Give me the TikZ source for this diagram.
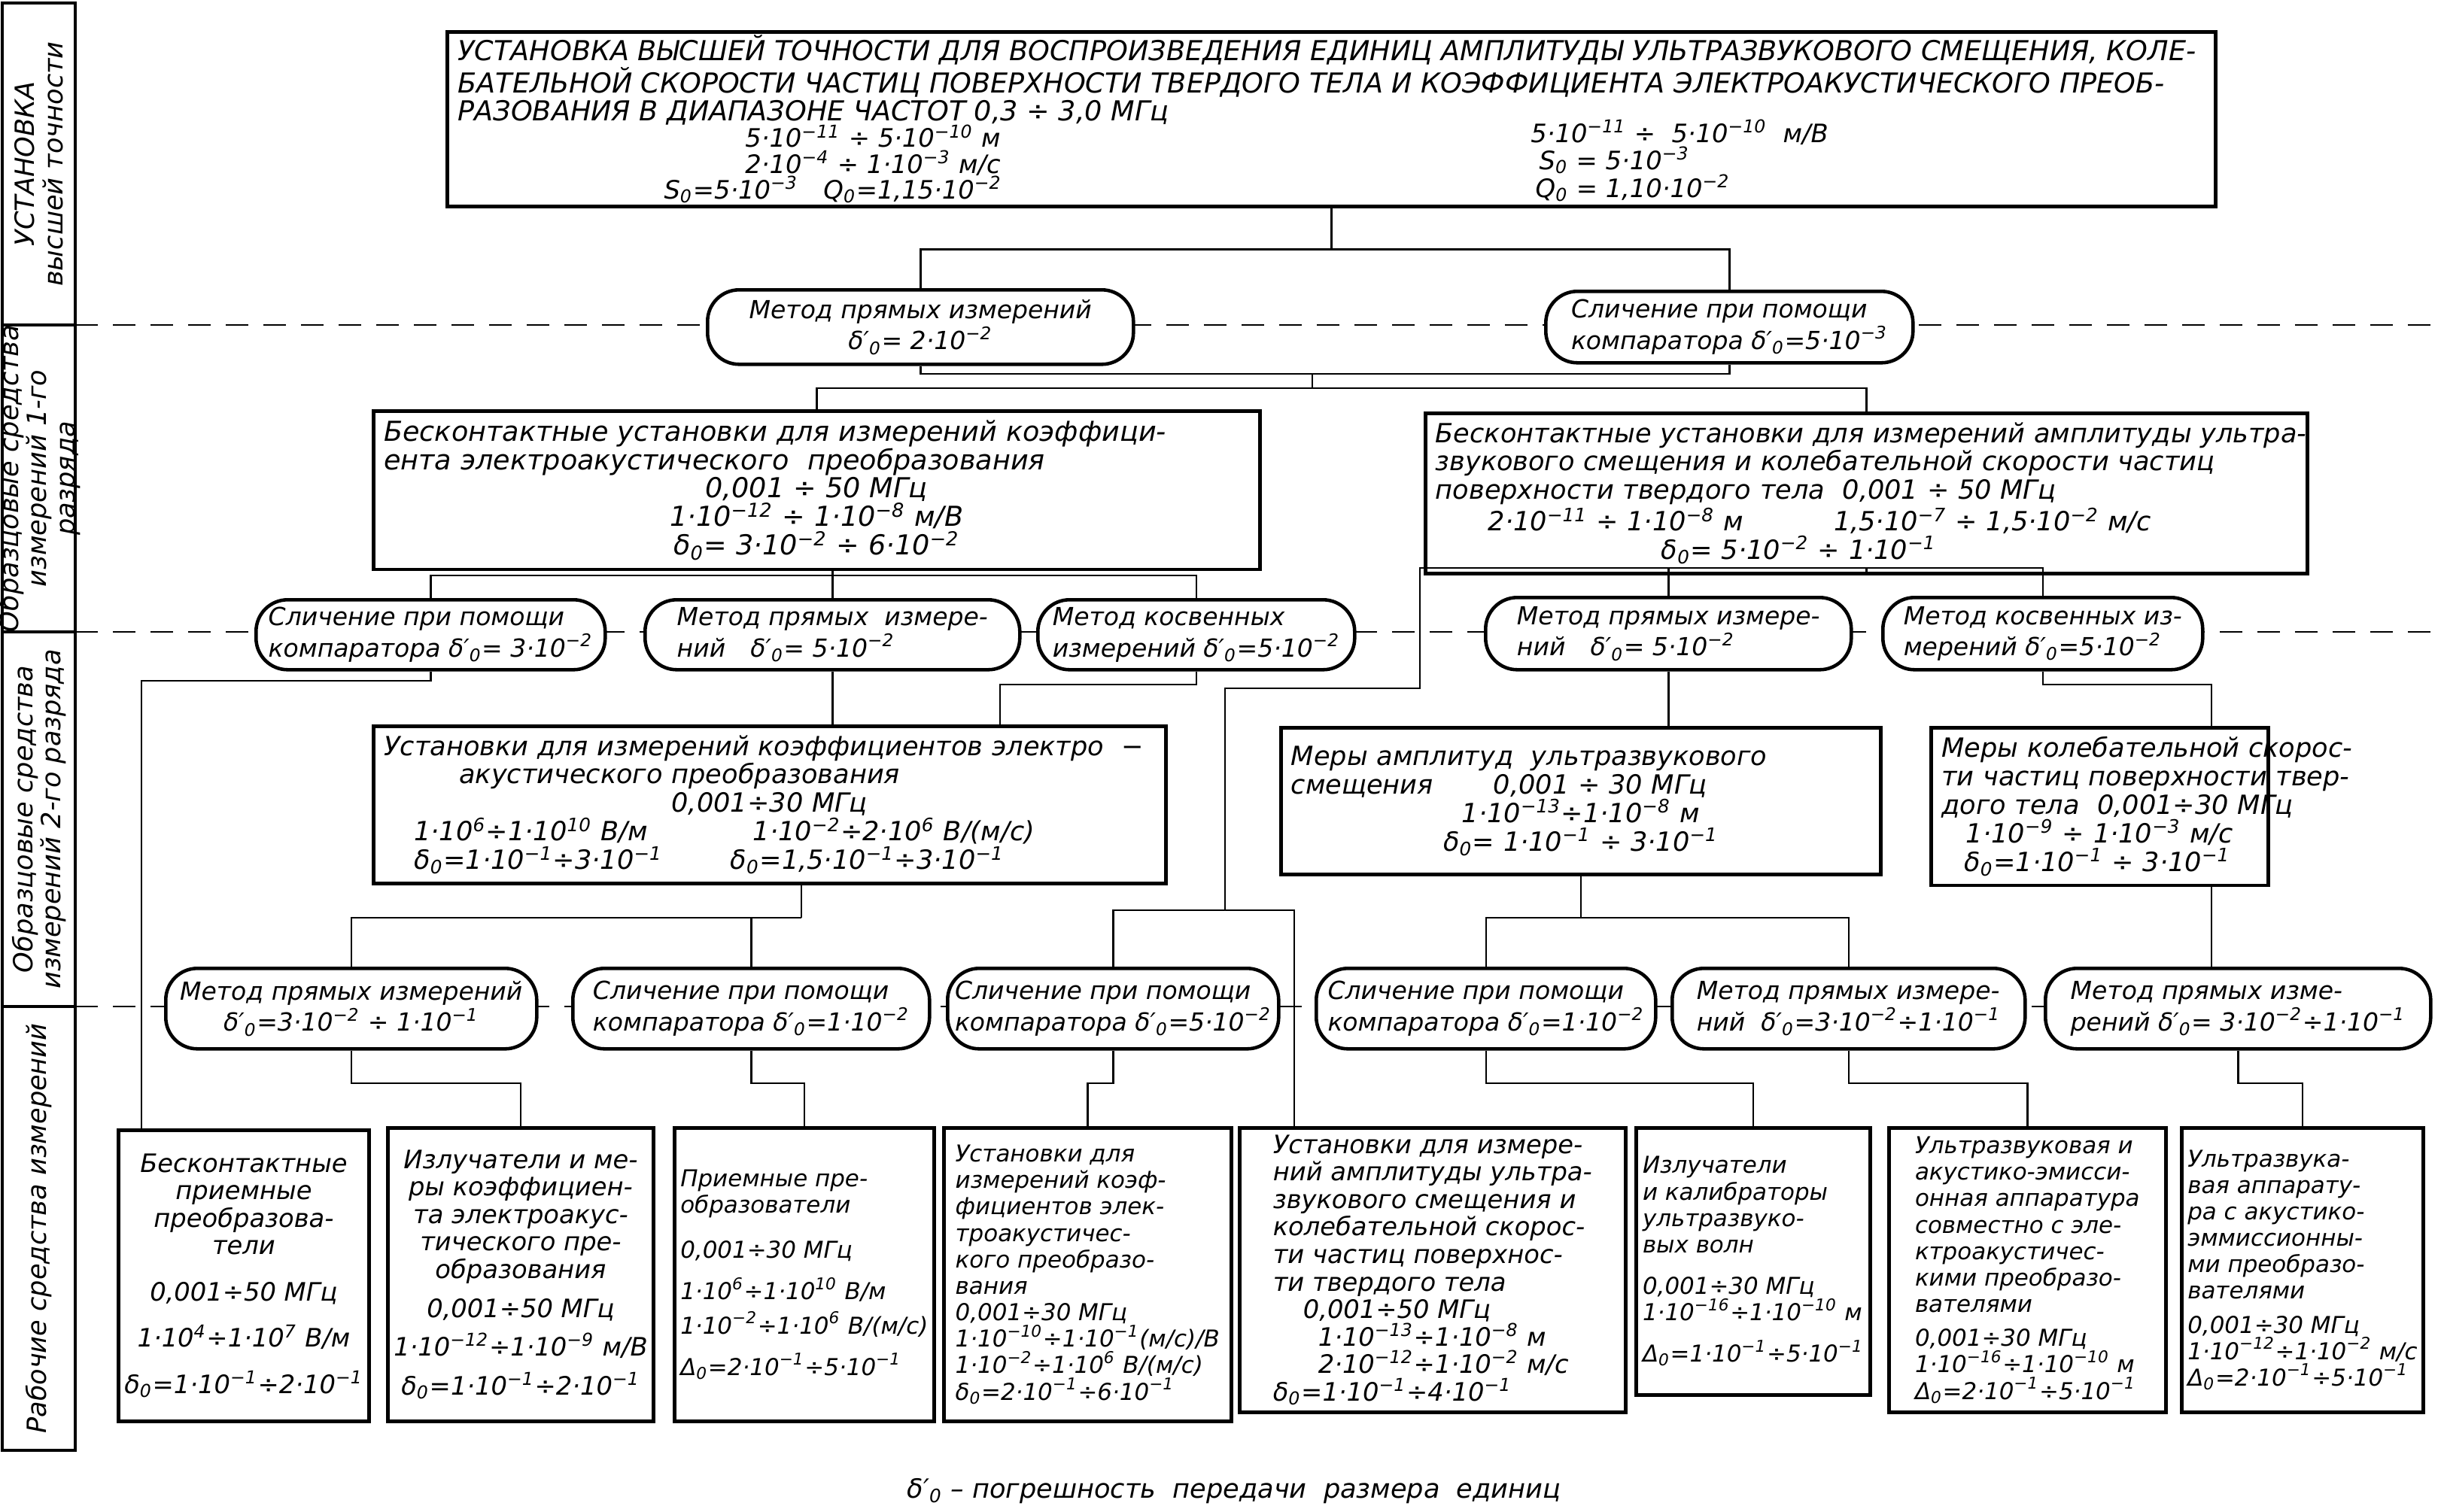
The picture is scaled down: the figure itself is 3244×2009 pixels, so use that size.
\documentclass[tikz,border=0pt]{standalone}
\usepackage{fontspec}
\setmainfont{DejaVu Sans}
\usetikzlibrary{calc}

\newcommand{\tp}[1]{\textsuperscript{#1}}
\newcommand{\dd}{δ′\textsubscript{0}}
\newcommand{\dz}{δ\textsubscript{0}}
\newcommand{\lft}[1]{\makebox[\linewidth][l]{#1}}

\tikzset{
  rect/.style={draw, line width=1.3pt, fill=white, inner sep=1.2mm, anchor=north west},
  oval/.style={draw, line width=1.3pt, fill=white, rounded corners=4.2mm, inner sep=0.3mm, anchor=north west, align=left, font=\fontsize{9.4}{11.8}\selectfont\itshape},
  wbox/.style={draw, line width=1.3pt, fill=white, inner sep=0.8mm, anchor=north west, align=left, font=\fontsize{8.8}{10}\selectfont\itshape},
  wbig/.style={wbox, font=\fontsize{9.6}{10.4}\selectfont\itshape},
  param/.style={inner sep=0pt, font=\fontsize{9.6}{10}\selectfont\itshape},
  link/.style={line width=0.7pt},
  sep/.style={line width=0.7pt, dash pattern=on 3mm off 2mm},
}

\begin{document}
\begin{tikzpicture}[x=0.1mm, y=-0.1mm, font=\fontsize{10}{10.8}\selectfont\itshape]
\useasboundingbox (0,0) rectangle (3244,2009);

% left column
\draw[line width=1pt] (3,4) rectangle (100,1928);
\foreach \y in {432,840,1338} {
  \draw[line width=1pt] (3,\y) -- (100,\y);
  \draw[sep] (100,\y) -- (3244,\y);
}
\node[rotate=90, align=center] (L1) at (52,218) {УСТАНОВКА\\высшей точности};
\node[rotate=90, align=center] (L2) at (52,636) {Образцовые средства\\измерений 1-го\\разряда};
\node[rotate=90, align=center] (L3) at (52,1089) {Образцовые средства\\измерений 2-го разряда};
\node[rotate=90, align=center] (L4) at (52,1633) {Рабочие средства измерений};

% top box
\node[rect, minimum width=235mm, minimum height=23.2mm] (top) at (592,40) {};
\node[anchor=north west, align=left, inner sep=0pt, font=\fontsize{10.4}{10.3}\selectfont\itshape] (title) at (608,46)
  {УСТАНОВКА ВЫСШЕЙ ТОЧНОСТИ ДЛЯ ВОСПРОИЗВЕДЕНИЯ ЕДИНИЦ АМПЛИТУДЫ УЛЬТРАЗВУКОВОГО СМЕЩЕНИЯ, КОЛЕ-\\
   БАТЕЛЬНОЙ СКОРОСТИ ЧАСТИЦ ПОВЕРХНОСТИ ТВЕРДОГО ТЕЛА И КОЭФФИЦИЕНТА ЭЛЕКТРОАКУСТИЧЕСКОГО ПРЕОБ-\\
   РАЗОВАНИЯ В ДИАПАЗОНЕ ЧАСТОТ 0,3 ÷ 3,0 МГц};
\node[param] (p1) at (1160,181) {5·10\tp{−11} ÷ 5·10\tp{−10} м};
\node[param] (p2) at (1160,217) {2·10\tp{−4} ÷ 1·10\tp{−3} м/с};
\node[param] (p3) at (1107,252) {S\textsubscript{0}=5·10\tp{−3}\quad Q\textsubscript{0}=1,15·10\tp{−2}};
\node[param] (p4) at (2232,176) {5·10\tp{−11} ÷\ \ 5·10\tp{−10}\ \ м/В};
\node[param, anchor=west] (p5) at (2045,213) {S\textsubscript{0} = 5·10\tp{−3}};
\node[param, anchor=west] (p6) at (2040,250) {Q\textsubscript{0} = 1,10·10\tp{−2}};

% row 2
\node[oval, align=center, minimum width=56.6mm, minimum height=9.9mm] (O1) at (938,383)
  {Метод прямых измерений\\ \dd = 2·10\tp{−2}};
\node[oval, minimum width=48.8mm, minimum height=9.5mm] (O2) at (2052,385)
  {Сличение при помощи\\компаратора \dd=5·10\tp{−3}};

% row 3
\node[rect, minimum width=117.8mm, minimum height=18mm, text width=115mm, align=center, font=\fontsize{10.4}{10.8}\selectfont\itshape] (B1) at (494,544)
  {\lft{Бесконтактные установки для измерений коэффици-}\\
   \lft{ента электроакустического\ \ преобразования}\\
   0,001 ÷ 50 МГц\\
   1·10\tp{−12} ÷ 1·10\tp{−8} м/В\\
   \dz = 3·10\tp{−2} ÷ 6·10\tp{−2}};
\node[rect, minimum width=117.2mm, minimum height=17.6mm, text width=114.5mm, align=center] (B2) at (1892,547)
  {\lft{Бесконтактные установки для измерений амплитуды ультра-}\\
   \lft{звукового смещения и колебательной скорости частиц}\\
   \lft{поверхности твердого тела\ \ 0,001 ÷ 50 МГц}\\
   \lft{\hspace{7mm}2·10\tp{−11} ÷ 1·10\tp{−8} м\hspace{12mm}1,5·10\tp{−7} ÷ 1,5·10\tp{−2} м/с}\\
   \lft{\hspace{30mm}\dz = 5·10\tp{−2} ÷ 1·10\tp{−1}}};

% row 4
\node[oval, minimum width=46.4mm, minimum height=9.3mm] (O3) at (338,795)
  {Сличение при помощи\\компаратора \dd = 3·10\tp{−2}};
\node[oval, minimum width=49.8mm, minimum height=9.3mm] (O4) at (855,795)
  {Метод прямых\ \ измере-\\ний\quad \dd = 5·10\tp{−2}};
\node[oval, minimum width=42.1mm, minimum height=9.3mm] (O5) at (1377,795)
  {Метод косвенных\\измерений \dd=5·10\tp{−2}};
\node[oval, minimum width=48.6mm, minimum height=9.6mm] (O6) at (1972,792)
  {Метод прямых измере-\\ний\quad \dd = 5·10\tp{−2}};
\node[oval, minimum width=42.5mm, minimum height=9.6mm] (O7) at (2500,792)
  {Метод косвенных из-\\мерений \dd=5·10\tp{−2}};

% row 5
\node[rect, minimum width=105.3mm, minimum height=19.9mm, text width=102.5mm, align=center] (B3) at (494,963)
  {\lft{Установки для измерений коэффициентов электро\ \ −}\\
   \lft{\hspace{10mm}акустического преобразования}\\
   0,001÷30 МГц\\
   \lft{\hspace{4mm}1·10\tp{6}÷1·10\tp{10} В/м\hspace{14mm}1·10\tp{−2}÷2·10\tp{6} В/(м/с)}\\
   \lft{\hspace{4mm}\dz=1·10\tp{−1}÷3·10\tp{−1}\hspace{9mm}\dz=1,5·10\tp{−1}÷3·10\tp{−1}}};
\node[rect, minimum width=79.7mm, minimum height=19.5mm, text width=77mm, align=center] (B4) at (1700,965)
  {\lft{Меры амплитуд\ \ ультразвукового}\\
   \lft{смещения\hspace{8mm}0,001 ÷ 30 МГц}\\
   1·10\tp{−13}÷1·10\tp{−8} м\\
   \dz = 1·10\tp{−1} ÷ 3·10\tp{−1}};
\node[rect, minimum width=44.8mm, minimum height=19.5mm, text width=42mm, align=center] (B5) at (2564,965)
  {\lft{Меры колебательной скорос-}\\
   \lft{ти частиц поверхности твер-}\\
   \lft{дого тела\ \ 0,001÷30 МГц}\\
   1·10\tp{−9} ÷ 1·10\tp{−3} м/с\\
   \lft{\hspace{3mm}\dz=1·10\tp{−1} ÷ 3·10\tp{−1}}};

% row 6
\node[oval, align=center, minimum width=49.3mm, minimum height=10.7mm] (O8) at (218,1285)
  {Метод прямых измерений\\ \dd=3·10\tp{−2} ÷ 1·10\tp{−1}};
\node[oval, minimum width=47.4mm, minimum height=10.7mm] (O9) at (759,1285)
  {Сличение при помощи\\компаратора \dd=1·10\tp{−2}};
\node[oval, minimum width=44mm, minimum height=10.7mm] (O10) at (1257,1285)
  {Сличение при помощи\\компаратора \dd=5·10\tp{−2}};
\node[oval, minimum width=45.1mm, minimum height=10.7mm] (O11) at (1747,1285)
  {Сличение при помощи\\компаратора \dd=1·10\tp{−2}};
\node[oval, minimum width=46.9mm, minimum height=10.7mm] (O12) at (2220,1285)
  {Метод прямых измере-\\ний\ \ \dd=3·10\tp{−2}÷1·10\tp{−1}};
\node[oval, minimum width=51.2mm, minimum height=10.7mm] (O13) at (2716,1285)
  {Метод прямых изме-\\рений \dd = 3·10\tp{−2}÷1·10\tp{−1}};

% row 7
\node[wbig, align=center, minimum width=33.1mm, minimum height=38.7mm] (W1) at (155,1500)
  {Бесконтактные\\приемные\\преобразова-\\тели\\[2.5mm]0,001÷50 МГц\\[2.5mm]1·10\tp{4}÷1·10\tp{7} В/м\\[2.5mm]\dz=1·10\tp{−1}÷2·10\tp{−1}};
\node[wbig, align=center, minimum width=35.2mm, minimum height=39mm] (W2) at (513,1497)
  {Излучатели и ме-\\ры коэффициен-\\та электроакус-\\тического пре-\\образования\\[1.5mm]0,001÷50 МГц\\[1.5mm]1·10\tp{−12}÷1·10\tp{−9} м/В\\[1.5mm]\dz=1·10\tp{−1}÷2·10\tp{−1}};
\node[wbox, minimum width=32.7mm, minimum height=39mm] (W3) at (894,1497)
  {Приемные пре-\\образователи\\[2.5mm]0,001÷30 МГц\\[2mm]1·10\tp{6}÷1·10\tp{10} В/м\\[1mm]1·10\tp{−2}÷1·10\tp{6} В/(м/с)\\[2mm]Δ\textsubscript{0}=2·10\tp{−1}÷5·10\tp{−1}};
\node[wbox, minimum width=38.2mm, minimum height=39mm] (W4) at (1252,1497)
  {Установки для\\измерений коэф-\\фициентов элек-\\троакустичес-\\кого преобразо-\\вания\\0,001÷30 МГц\\1·10\tp{−10}÷1·10\tp{−1}(м/с)/В\\1·10\tp{−2}÷1·10\tp{6} В/(м/с)\\\dz=2·10\tp{−1}÷6·10\tp{−1}};
\node[wbig, minimum width=51.3mm, minimum height=37.8mm] (W5) at (1645,1497)
  {Установки для измере-\\ний амплитуды ультра-\\звукового смещения и\\колебательной скорос-\\ти частиц поверхнос-\\ти твердого тела\\\hspace{4mm}0,001÷50 МГц\\\hspace{6mm}1·10\tp{−13}÷1·10\tp{−8} м\\\hspace{6mm}2·10\tp{−12}÷1·10\tp{−2} м/с\\\dz=1·10\tp{−1}÷4·10\tp{−1}};
\node[wbox, minimum width=31.1mm, minimum height=35.5mm] (W6) at (2172,1497)
  {Излучатели\\и калибраторы\\ультразвуко-\\вых волн\\[2mm]0,001÷30 МГц\\1·10\tp{−16}÷1·10\tp{−10} м\\[2mm]Δ\textsubscript{0}=1·10\tp{−1}÷5·10\tp{−1}};
\node[wbox, minimum width=36.8mm, minimum height=37.8mm] (W7) at (2508,1497)
  {Ультразвуковая и\\акустико-эмисси-\\онная аппаратура\\совместно с эле-\\ктроакустичес-\\кими преобразо-\\вателями\\[1mm]0,001÷30 МГц\\1·10\tp{−16}÷1·10\tp{−10} м\\Δ\textsubscript{0}=2·10\tp{−1}÷5·10\tp{−1}};
\node[wbox, minimum width=31mm, minimum height=37.8mm] (W8) at (2897,1497)
  {Ультразвука-\\вая аппарату-\\ра с акустико-\\эммиссионны-\\ми преобразо-\\вателями\\[1mm]0,001÷30 МГц\\1·10\tp{−12}÷1·10\tp{−2} м/с\\Δ\textsubscript{0}=2·10\tp{−1}÷5·10\tp{−1}};

\node (note) at (1640,1982) {\dd\ – погрешность\ \ передачи\ \ размера\ \ единиц};

% connectors
\draw[link] (top.south) -- ++(0,55) coordinate (j1);
\draw[link] (O1.north) |- (j1) -| (O2.north);
\coordinate (j2) at (1744,497);
\coordinate (j3) at (1744,516);
\draw[link] (O1.south) |- (j2) -| (O2.south);
\draw[link] (j2) -- (j3);
\draw[link] (B1.north) |- (j3) -| (B2.north);

\coordinate (j4) at (O4.north |- 0,765);
\draw[link] (B1.south -| O4.north) -- (O4.north);
\draw[link] (O3.north) |- (j4) -| (O5.north);
\coordinate (j5) at (B2.south |- 0,755);
\draw[link] (B2.south) -- (j5);
\draw[link] (O6.north) |- (j5) -| (O7.north);
\draw[link] (O6.north |- j5) -- (1887,755) -- (1887,915) -- (1628,915) -- (1628,1210) -- (1720,1210) -- (W5.north -| 1720,0);

\draw[link] (O4.south) -- (O4.south |- B3.north);
\coordinate (j6) at (1329,910);
\draw[link] (O5.south) |- (j6) -- (j6 |- B3.north);
\draw[link] (O6.south) -- (O6.south |- B4.north);
\coordinate (j7) at (2939,910);
\draw[link] (O7.south) |- (j7) -- (j7 |- B5.north);

\coordinate (j8) at (1065,1220);
\draw[link] (B3.south -| j8) -- (j8);
\draw[link] (O8.north) |- (j8);
\draw[link] (O9.north) -- (O9.north |- j8);
\coordinate (j9) at (B4.south |- 0,1220);
\draw[link] (B4.south) -- (j9);
\draw[link] (O11.north) |- (j9) -| (O12.north);
\draw[link] (B5.south -| j7) -- (O13.north -| j7);
\draw[link] (O10.north) |- (1628,1210);

\draw[link] (O3.south) |- (188,905) -- (W1.north -| 188,0);
\draw[link] (O8.south) |- (W2.north |- 0,1440) -- (W2.north);
\draw[link] (O9.south) |- (W3.north |- 0,1440) -- (W3.north);
\draw[link] (O10.south) |- (W4.north |- 0,1440) -- (W4.north);
\draw[link] (O11.south) |- (W6.north |- 0,1440) -- (W6.north);
\draw[link] (O12.south) |- (W7.north |- 0,1440) -- (W7.north);
\draw[link] (O13.south) |- (W8.north |- 0,1440) -- (W8.north);
\end{tikzpicture}
\end{document}
